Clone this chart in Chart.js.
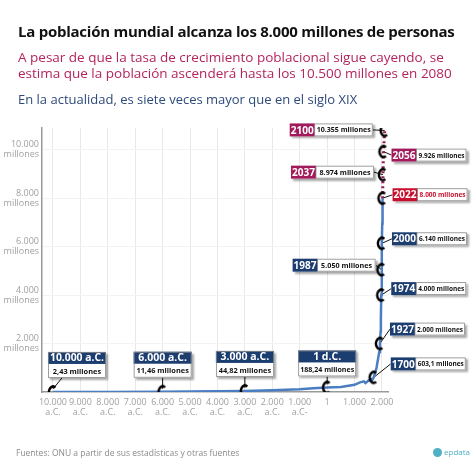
<!DOCTYPE html>
<html>
<head>
<meta charset="utf-8">
<script src="https://cdn.jsdelivr.net/npm/chart.js@4/dist/chart.umd.min.js"></script>
<style>
  html, body { margin: 0; padding: 0; background: #fff; }
  #wrap { position: relative; width: 474px; height: 474px; overflow: hidden; font-family: "Open Sans", sans-serif; }
  #miCanva { position: absolute; left: 0; top: 0; }
  .t { position: absolute; left: 18px; white-space: nowrap; }
  #title { top: 21px; font-size: 15px; font-weight: 700; color: #111; letter-spacing: -0.25px; }
  #sub { top: 49px; font-size: 13.5px; color: #b3245f; line-height: 16px; }
  #sub2 { top: 90px; font-size: 13px; color: #2d4a7a; }
  #src { top: 447px; left: 16px; font-size: 8.5px; color: #8a8a8a; }
  #logo { position: absolute; top: 446px; left: 433px; font-size: 8px; color: #4fb0c6; }
  #logo span { display: inline-block; width: 9px; height: 9px; border-radius: 50%; background: #4fb0c6; vertical-align: -2px; margin-right: 2px; }
</style>
</head>
<body>
<div id="wrap">
  <canvas id="miCanva" width="474" height="474"></canvas>
  <div class="t" id="title">La población mundial alcanza los 8.000 millones de personas</div>
  <div class="t" id="sub">A pesar de que la tasa de crecimiento poblacional sigue cayendo, se<br>estima que la población ascenderá hasta los 10.500 millones en 2080</div>
  <div class="t" id="sub2">En la actualidad, es siete veces mayor que en el siglo XIX</div>
  <div class="t" id="src">Fuentes: ONU a partir de sus estadísticas y otras fuentes</div>
  <div id="logo"><span></span>epdata</div>
</div>
<script>
// población mundial (millones) por año; años negativos = a.C.
const histYears = [-10000, -8000, -6000, -5000, -4000, -3000, -2000, -1000, -500, 1, 500, 1000, 1200, 1340, 1400, 1500, 1600, 1650, 1700, 1800, 1900, 1927, 1950, 1960, 1974, 1987, 2000, 2010, 2022];
const histValues = [2.43, 5, 11.46, 18, 28, 44.82, 72, 115, 150, 188.24, 210, 295, 400, 440, 370, 460, 540, 500, 603.1, 990, 1650, 2000, 2500, 3000, 4000, 5050, 6140, 6960, 8000];
const projYears = [2022, 2037, 2056, 2100];
const projValues = [8000, 8974, 9926, 10800];

// años destacados y sus etiquetas
const markYears = [-10000, -6000, -3000, 1, 1700, 1927, 1974, 1987, 2000, 2022, 2037, 2056, 2100];
const markHeads = ["10.000 a.C.", "6.000 a.C.", "3.000 a.C.", "1 d.C.", "1700", "1927", "1974", "1987", "2000", "2022", "2037", "2056", "2100"];
const markTexts = ["2,43 millones", "11,46 millones", "44,82 millones", "188,24 millones", "603,1 millones", "2.000 millones", "4.000 millones", "5.050 millones", "6.140 millones", "8.000 millones", "8.974 millones", "9.926 millones", "10.355 millones"];

// ejes
const xTicks = [-10000, -9000, -8000, -7000, -6000, -5000, -4000, -3000, -2000, -1000, 0, 1000, 2000];
const xTickLabels = [["10.000", "a.C."], ["9.000", "a.C."], ["8.000", "a.C."], ["7.000", "a.C."], ["6.000", "a.C."], ["5.000", "a.C."], ["4.000", "a.C."], ["3.000", "a.C."], ["2.000", "a.C."], ["1.000", "a.C-"], ["1"], ["1.000"], ["2.000"]];
const yTicks = [2000, 4000, 6000, 8000, 10000];
const yTickLabels = [["2.000", "millones"], ["4.000", "millones"], ["6.000", "millones"], ["8.000", "millones"], ["10.000", "millones"]];

// colocación de las cajas (no son datos): estilo, lado, desplazamiento respecto al punto
const NAVY = "#1c3d70", PINK = "#a31a5c", RED = "#c8102e";
const boxLayout = [
  { kind: "v", dx: 24, dy: -40, lead: -15, color: NAVY },
  { kind: "v", dx: 0, dy: -40, lead: 0, color: NAVY },
  { kind: "v", dx: 0, dy: -40, lead: 0, color: NAVY },
  { kind: "v", dx: 0, dy: -37, lead: 0, color: NAVY },
  { kind: "h", side: "r", dx: 17, dy: -20, color: NAVY },
  { kind: "h", side: "r", dx: 10, dy: -21, color: NAVY },
  { kind: "h", side: "r", dx: 10, dy: -13, color: NAVY },
  { kind: "h", side: "l", dx: -6, dy: -11, color: NAVY },
  { kind: "h", side: "r", dx: 10, dy: -11, color: NAVY },
  { kind: "h", side: "r", dx: 10, dy: -10, color: RED, textColor: RED },
  { kind: "h", side: "l", dx: -9, dy: -9, color: PINK },
  { kind: "h", side: "r", dx: 8, dy: -3, color: PINK },
  { kind: "h", side: "l", dx: -12, dy: -7, color: PINK },
];

const allYears = histYears.concat(projYears);
const allValues = histValues.concat(projValues);
const valueAt = (yr) => allValues[allYears.indexOf(yr)];

// marcador en forma de "C"
const marker = document.createElement("canvas");
marker.width = 14; marker.height = 16;
(() => {
  const m = marker.getContext("2d");
  m.strokeStyle = "#000";
  m.lineWidth = 2.6;
  m.beginPath();
  m.ellipse(7, 8, 4, 5.5, 0, 0.3 * Math.PI, 1.7 * Math.PI);
  m.stroke();
})();

const FONT = "'Open Sans', sans-serif";

const boxesPlugin = {
  id: "boxes",
  beforeDatasetsDraw(chart) {
    const { ctx, scales: { x, y } } = chart;
    ctx.save();
    ctx.strokeStyle = "#111";
    ctx.lineWidth = 1;
    markYears.forEach((yr, i) => {
      const L = boxLayout[i];
      const px = x.getPixelForValue(yr), py = y.getPixelForValue(valueAt(yr));
      ctx.beginPath();
      if (L.kind === "v") {
        ctx.moveTo(px + L.dx + L.lead, py + L.dy + 26);
        ctx.lineTo(px, py - 3);
      } else {
        ctx.moveTo(px + L.dx, py + L.dy + 6.5);
        ctx.lineTo(px, py);
      }
      ctx.stroke();
    });
    ctx.restore();
  },
  afterDatasetsDraw(chart) {
    const { ctx, scales: { x, y } } = chart;
    ctx.save();
    markYears.forEach((yr, i) => {
      const L = boxLayout[i];
      const px = x.getPixelForValue(yr), py = y.getPixelForValue(valueAt(yr));
      ctx.shadowColor = "rgba(0,0,0,0.35)";
      ctx.shadowOffsetX = 2; ctx.shadowOffsetY = 2; ctx.shadowBlur = 2;
      if (L.kind === "v") {
        const w = 58, bx = px + L.dx - w / 2, by = py + L.dy;
        ctx.fillStyle = "#fff";
        ctx.fillRect(bx, by, w, 26);
        ctx.shadowColor = "transparent";
        ctx.fillStyle = L.color;
        ctx.fillRect(bx, by, w, 12);
        ctx.strokeStyle = "#888";
        ctx.lineWidth = 0.8;
        ctx.strokeRect(bx + 0.5, by + 0.5, w - 1, 25);
        ctx.textAlign = "center"; ctx.textBaseline = "middle";
        ctx.fillStyle = "#fff";
        ctx.font = "700 10.5px " + FONT;
        ctx.fillText(markHeads[i], bx + w / 2, by + 6.5, w - 4);
        ctx.fillStyle = "#111";
        ctx.font = "700 7.4px " + FONT;
        ctx.fillText(markTexts[i], bx + w / 2, by + 19.5, w - 4);
      } else {
        const hw = 25, bw = L.side === "r" ? 50 : 58, h = 13;
        const bx = L.side === "r" ? px + L.dx : px + L.dx - hw - bw;
        const by = py + L.dy;
        ctx.fillStyle = "#fff";
        ctx.fillRect(bx, by, hw + bw, h);
        ctx.shadowColor = "transparent";
        ctx.fillStyle = L.color;
        ctx.fillRect(bx, by, hw, h);
        ctx.strokeStyle = "#888";
        ctx.lineWidth = 0.8;
        ctx.strokeRect(bx + hw, by + 0.5, bw - 0.5, h - 1);
        ctx.textAlign = "center"; ctx.textBaseline = "middle";
        ctx.fillStyle = "#fff";
        ctx.font = "700 11px " + FONT;
        ctx.fillText(markHeads[i], bx + hw / 2, by + h / 2 + 0.5, hw - 2);
        ctx.fillStyle = L.textColor || "#111";
        ctx.font = "700 7.2px " + FONT;
        ctx.fillText(markTexts[i], bx + hw + bw / 2, by + h / 2 + 0.5, bw - 4);
      }
    });
    ctx.restore();
  },
};

const canvas = document.getElementById("miCanva");
const ctx = canvas.getContext("2d");

canvas.chart = new Chart(ctx, {
  type: "line",
  data: {
    datasets: [
      {
        label: "Marcadores",
        data: markYears.map((yr) => ({ x: yr, y: valueAt(yr) })),
        showLine: false,
        pointStyle: marker,
        pointRadius: 7,
        order: 0,
      },
      {
        label: "Población",
        data: histYears.map((yr, i) => ({ x: yr, y: histValues[i] })),
        borderColor: "#4a7dc2",
        borderWidth: 2.5,
        pointRadius: 0,
        tension: 0,
        order: 2,
      },
      {
        label: "Proyección",
        data: projYears.map((yr, i) => ({ x: yr, y: projValues[i] })),
        borderColor: "#9c1a5a",
        borderWidth: 3,
        borderDash: [2, 3],
        pointRadius: 0,
        order: 1,
      },
    ],
  },
  options: {
    responsive: false,
    animation: false,
    layout: { padding: { top: 128, left: 0, right: 86, bottom: 52 } },
    plugins: { legend: { display: false }, tooltip: { enabled: false } },
    scales: {
      x: {
        type: "linear",
        min: -10400,
        max: 2220,
        afterFit: (s) => { s.height = 30; },
        afterBuildTicks: (s) => { s.ticks = xTicks.map((v) => ({ value: v })); },
        grid: { color: "#e8e8e8", drawTicks: false },
        border: { color: "#9a9a9a", width: 1.5 },
        ticks: {
          padding: 5,
          maxRotation: 0,
          autoSkip: false,
          color: "#a0a0a0",
          font: { family: "'Open Sans'", size: 9, lineHeight: 1.15 },
          callback: (v, i) => xTickLabels[i],
        },
      },
      y: {
        min: 0,
        max: 10900,
        afterFit: (s) => { s.width = 42; },
        afterBuildTicks: (s) => { s.ticks = yTicks.map((v) => ({ value: v })); },
        grid: { color: "#f3f3f3", drawTicks: false },
        border: { color: "#9a9a9a", width: 1.5 },
        ticks: {
          padding: 3,
          color: "#a0a0a0",
          font: { family: "'Open Sans'", size: 9, lineHeight: 1.1 },
          callback: (v, i) => yTickLabels[i],
        },
      },
    },
  },
  plugins: [boxesPlugin],
});
</script>
</body>
</html>
